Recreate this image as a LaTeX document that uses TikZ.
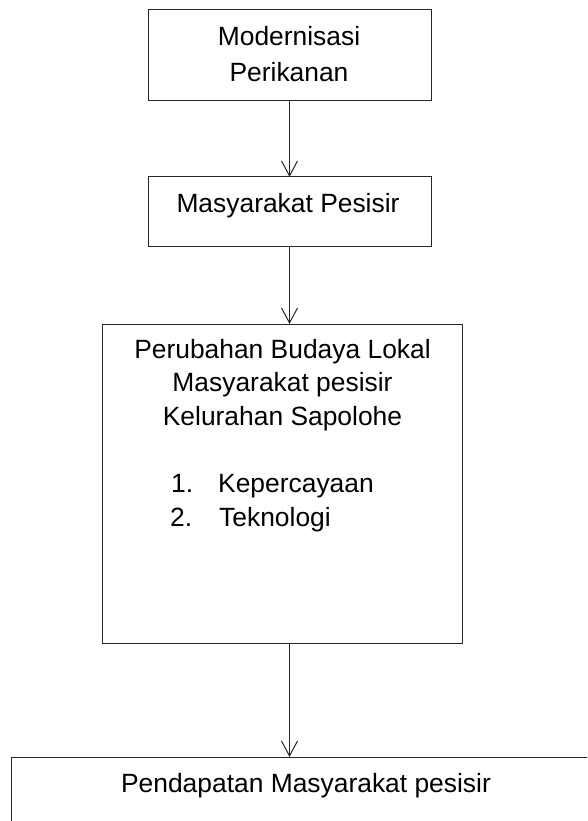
\documentclass[tikz,border=0pt]{standalone}
\usepackage{fontspec}
\setmainfont{Liberation Sans}
\usetikzlibrary{arrows.meta}
\begin{document}
\begin{tikzpicture}[x=1pt,y=-1pt,
  boxst/.style={draw=black!85,line width=1pt,inner sep=0pt,outer sep=0pt,minimum width=#1},
  txt/.style={anchor=base,inner sep=0pt,font=\fontsize{26.4}{32}\selectfont},
  arr/.style={draw=black!85,line width=1pt,-{Straight Barb[length=15pt,width=16pt]}}]
\useasboundingbox (0,0) rectangle (587,821);
\clip (0,0) rectangle (587,821);
\fill[white] (0,0) rectangle (587,821);
% boxes
\node[boxst=283pt,minimum height=91pt] (b1) at (289.5,55.5) {};
\node[boxst=283pt,minimum height=69pt] (b2) at (289.5,211.5) {};
\node[boxst=360pt,minimum height=319pt] (b3) at (282,483.5) {};
\node[boxst=600pt,minimum height=100pt] (b4) at (311,807) {};
% texts
\node[txt] (t1a) at (289,45.7) {Modernisasi};
\node[txt] (t1b) at (289,81.7) {Perikanan};
\node[txt] (t2) at (288,212.3) {Masyarakat Pesisir};
\node[txt] (t3a) at (282.5,358.3) {Perubahan Budaya Lokal};
\node[txt] (t3b) at (282.5,391.7) {Masyarakat pesisir};
\node[txt] (t3c) at (282.5,425) {Kelurahan Sapolohe};
\node[txt,anchor=base west] (n1) at (171,492.7) {1.};
\node[txt,anchor=base west] (l1) at (218,492.7) {Kepercayaan};
\node[txt,anchor=base west] (n2) at (170,526.7) {2.};
\node[txt,anchor=base west] (l2) at (219,526.7) {Teknologi};
\node[txt] (t4) at (306,792.7) {Pendapatan Masyarakat pesisir};
% arrows
\draw[arr] (b1.south) -- (b2.north);
\draw[arr] (b2.south) -- (b2.south |- b3.north);
\draw[arr] (b2.south |- b3.south) -- (b2.south |- b4.north);
\end{tikzpicture}
\end{document}
